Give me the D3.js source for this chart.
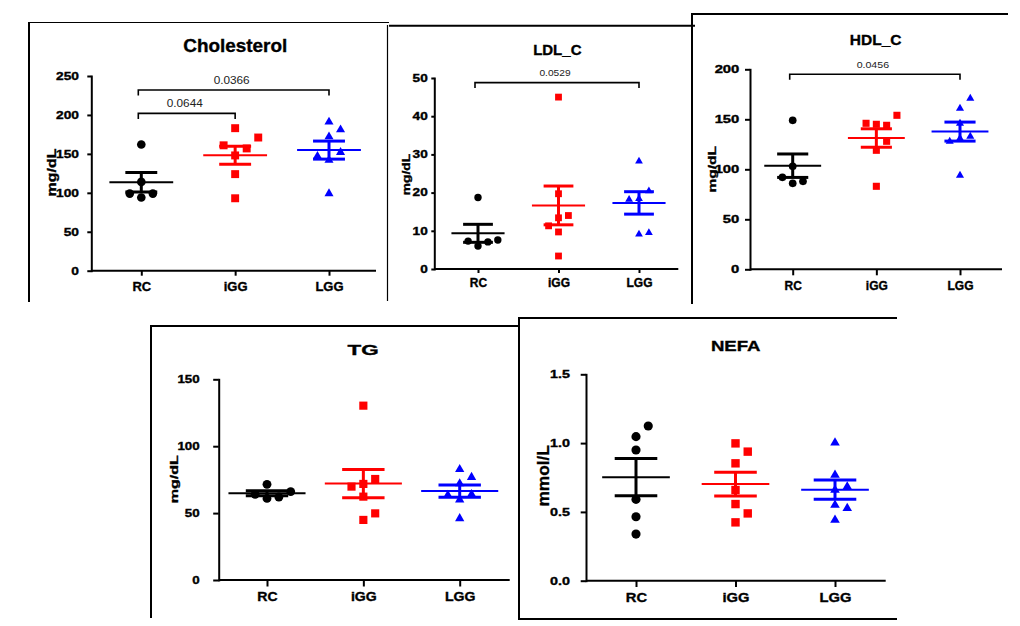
<!DOCTYPE html>
<html><head><meta charset="utf-8">
<script src="https://cdn.jsdelivr.net/npm/d3@7"></script>
<style>html,body{margin:0;padding:0;background:#fff;}svg{display:block;font-family:Arial,"Liberation Sans",sans-serif;}</style>
</head><body><svg id="c" width="1020" height="626"></svg>
<script>
// ---------------- DATA ----------------
const categories = ["RC", "iGG", "LGG"];
const groupColors = ["#000000", "#ff0000", "#0000ff"];

// Cholesterol (mg/dL)
const cholRC  = [162, 114, 94, 99, 99];
const cholIGG = [183, 148, 124, 93, 157, 161, 171];
const cholLGG = [191, 172, 142, 99, 181, 152, 147];
const cholTicks = [0, 50, 100, 150, 200, 250];
const cholBrackets = [
  {from: "RC", to: "iGG", p: "0.0644", level: 202},
  {from: "RC", to: "LGG", p: "0.0366", level: 232}
];

// LDL_C (mg/dL)
const ldlRC  = [18.7, 6.0, 7.1, 7.3, 7.6];
const ldlIGG = [45, 19.7, 13.4, 9.7, 3.4, 14.0, 11.3];
const ldlLGG = [28.2, 18.4, 9.1, 20.4, 18.2, 9.5];
const ldlTicks = [0, 10, 20, 30, 40, 50];
const ldlBrackets = [{from: "RC", to: "LGG", p: "0.0529", level: 48.8}];

// HDL_C (mg/dL)
const hdlRC  = [149, 103, 86, 88, 92];
const hdlIGG = [145, 119, 83, 144, 146, 154, 128];
const hdlLGG = [161, 146, 131, 94, 133, 128, 171];
const hdlTicks = [0, 50, 100, 150, 200];
const hdlBrackets = [{from: "RC", to: "LGG", p: "0.0456", level: 195}];

// TG (mg/dL)
const tgRC  = [71.5, 61, 62, 64, 66];
const tgIGG = [130.3, 71.8, 62.3, 44.9, 75.5, 69.8, 49.8];
const tgLGG = [82.7, 72, 60, 46, 76.8, 64, 63.5];
const tgTicks = [0, 50, 100, 150];

// NEFA (mmol/L)
const nefaRC  = [1.047, 0.95, 0.591, 0.465, 0.339, 1.124];
const nefaIGG = [0.998, 0.853, 0.659, 0.557, 0.424, 0.938, 0.489];
const nefaLGG = [1.003, 0.768, 0.659, 0.55, 0.441, 0.683, 0.526];
const nefaTicks = [0, 0.5, 1.0, 1.5];

const titles = ["Cholesterol", "LDL_C", "HDL_C", "TG", "NEFA"];
const yLabels = ["mg/dL", "mg/dL", "mg/dL", "mg/dL", "mmol/L"];

// ---------------- LAYOUT ----------------
const layouts = [
  {frame: [[28,22.5,389,22.5,1.2],[29,22,29,302,2]], axisX: 91.3, xEnd: 376, yTop: 76, yBot: 270.7, c0: 141.3, c2: 329,
   tick: 4, tickEnd: 79, tickFont: 11, tickSx: 1.25, xlabBase: 291, xlabFont: 13, xlabSx: 1.0,
   title: {x: 235.3, y: 52.3, f: 18, sx: 1.05}, ylab: {x: 56.2, y: 172.5, f: 12, sx: 1.33}, pFont: 10, pSx: 1.18,
   meanHalf: 0.34, semHalf: 0.17},
  {frame: [[389,25.7,695,25.7,2],[387.5,25,387.5,301,1.2]], axisX: 434.3, xEnd: 678.3, yTop: 78, yBot: 269, c0: 478, c2: 639,
   tick: 3, tickEnd: 427.7, tickFont: 10, tickSx: 1.36, xlabBase: 287, xlabFont: 12, xlabSx: 1.0,
   title: {x: 557.3, y: 55.3, f: 15, sx: 1.0}, ylab: {x: 409.9, y: 174.5, f: 11.5, sx: 1.2}, pFont: 9, pSx: 1.13,
   meanHalf: 0.33, semHalf: 0.185},
  {frame: [[692,14,1008,14,2],[692,13,692,304,2]], axisX: 750, xEnd: 1002, yTop: 69.3, yBot: 269.3, c0: 792.7, c2: 960,
   tick: 5, tickEnd: 739.3, tickFont: 10.2, tickSx: 1.45, xlabBase: 290, xlabFont: 12, xlabSx: 1.0,
   title: {x: 875.7, y: 45, f: 15.5, sx: 1.0}, ylab: {x: 715.6, y: 169.3, f: 11.5, sx: 1.35}, pFont: 9.3, pSx: 1.14,
   meanHalf: 0.34, semHalf: 0.186},
  {frame: [[151,326,519,326,2],[151,325,151,618,2]], axisX: 218.7, xEnd: 509.7, yTop: 379.3, yBot: 580, c0: 267, c2: 459.7,
   tick: 5.5, tickEnd: 199.7, tickFont: 10.2, tickSx: 1.31, xlabBase: 600.7, xlabFont: 12.6, xlabSx: 1.12,
   title: {x: 363, y: 355, f: 14.5, sx: 1.55}, ylab: {x: 178.3, y: 479.2, f: 11.5, sx: 1.4}, pFont: 9, pSx: 1.1,
   meanHalf: 0.40, semHalf: 0.22},
  {frame: [[519,318,897,318,2],[519,317,519,620,2],[519,619,897,619,2]], axisX: 586, xEnd: 885.7, yTop: 374.3, yBot: 580.7, c0: 636, c2: 835,
   tick: 5.3, tickEnd: 570, tickFont: 11.2, tickSx: 1.28, xlabBase: 601.7, xlabFont: 12.6, xlabSx: 1.17,
   title: {x: 735.7, y: 351, f: 15.4, sx: 1.21}, ylab: {x: 549.3, y: 475.8, f: 16, sx: 1.08}, pFont: 9, pSx: 1.1,
   meanHalf: 0.34, semHalf: 0.214}
];

const panels = [
  {groups: [cholRC, cholIGG, cholLGG], ticks: cholTicks, fmt: d3.format("d"), brackets: cholBrackets},
  {groups: [ldlRC, ldlIGG, ldlLGG], ticks: ldlTicks, fmt: d3.format("d"), brackets: ldlBrackets},
  {groups: [hdlRC, hdlIGG, hdlLGG], ticks: hdlTicks, fmt: d3.format("d"), brackets: hdlBrackets},
  {groups: [tgRC, tgIGG, tgLGG], ticks: tgTicks, fmt: d3.format("d"), brackets: []},
  {groups: [nefaRC, nefaIGG, nefaLGG], ticks: nefaTicks, fmt: d3.format(".1f"), brackets: []}
];

const shapes = [d3.symbolCircle, d3.symbolSquare, d3.symbolTriangle];
const shapeSize = [
  m => Math.PI * (m / 2) * (m / 2),
  m => (0.92 * m) * (0.92 * m),
  m => Math.sqrt(3) / 4 * (1.05 * m) * (1.05 * m)
];
const FONT = "Arial, 'Liberation Sans', sans-serif";
const BOLD_STROKE = 0.35;
const svg = d3.select("#c");

// greedy column layout of overlapping points (GraphPad-like scatter)
function arrange(values, y, thr) {
  const placed = [];
  const prefs = [0, 1, -1, 2, -2, 3, -3, 4, -4];
  return values.map(v => {
    const py = y(v);
    const s = prefs.find(s => !placed.some(p => p.slot === s && Math.abs(p.py - py) < thr));
    placed.push({slot: s, py});
    return {v, slot: s, py};
  });
}

function boldify(sel) {
  return sel.style("font-weight", "bold").attr("stroke", "#000").attr("stroke-width", BOLD_STROKE);
}

panels.forEach((P, pi) => {
  const L = layouts[pi];
  const g = svg.append("g");

  // frame
  L.frame.forEach(([x1, y1, x2, y2, w]) => g.append("line")
    .attr("x1", x1).attr("y1", y1).attr("x2", x2).attr("y2", y2)
    .attr("stroke", "#000").attr("stroke-width", w));

  const y = d3.scaleLinear().domain([0, d3.max(P.ticks)]).range([L.yBot, L.yTop]);
  const x = d3.scalePoint().domain(categories).range([L.c0, L.c2]);
  const step = x.step();

  // x axis
  g.append("line").attr("x1", L.axisX).attr("x2", L.xEnd).attr("y1", L.yBot).attr("y2", L.yBot)
    .attr("stroke", "#000").attr("stroke-width", 2);
  const xa = g.append("g").attr("transform", `translate(0,${L.yBot})`)
    .call(d3.axisBottom(x).tickSize(L.tick + 1).tickSizeOuter(0));
  xa.attr("font-family", FONT).attr("font-size", null);
  xa.select(".domain").remove();
  xa.selectAll(".tick line").attr("stroke-width", 2).attr("stroke", "#000");
  boldify(xa.selectAll(".tick text").attr("y", L.xlabBase - L.yBot).attr("dy", 0)
    .attr("transform", `scale(${L.xlabSx},1)`).attr("fill", "#000")
    .style("font-size", L.xlabFont + "px"));

  // y axis
  const ya = g.append("g").attr("transform", `translate(${L.axisX},0)`)
    .call(d3.axisLeft(y).tickValues(P.ticks).tickFormat(P.fmt).tickSize(L.tick).tickSizeOuter(0));
  ya.attr("font-family", FONT).attr("font-size", null);
  ya.select(".domain").attr("stroke-width", 2).attr("stroke", "#000").attr("stroke-linecap", "square");
  ya.selectAll(".tick line").attr("stroke-width", 2).attr("stroke", "#000");
  boldify(ya.selectAll(".tick text").attr("x", -(L.axisX - L.tickEnd) / L.tickSx)
    .attr("transform", `scale(${L.tickSx},1)`).attr("fill", "#000")
    .style("font-size", L.tickFont + "px"));

  // points
  const m = 0.092 * step, slotW = 0.123 * step;
  P.groups.forEach((vals, i) => {
    const cx = x(categories[i]);
    const pts = arrange(vals, y, 11.5);
    const sym = d3.symbol().type(shapes[i]).size(shapeSize[i](m));
    g.append("g").selectAll("path").data(pts).join("path")
      .attr("d", sym)
      .attr("transform", d => `translate(${cx + d.slot * slotW},${d.py})`)
      .attr("fill", groupColors[i]);
  });

  // mean ± SEM
  P.groups.forEach((vals, i) => {
    const cx = x(categories[i]);
    const mean = d3.mean(vals);
    const sem = d3.deviation(vals) / Math.sqrt(vals.length);
    const col = groupColors[i];
    const eg = g.append("g").attr("stroke", col);
    eg.append("line").attr("x1", cx).attr("x2", cx).attr("y1", y(mean + sem)).attr("y2", y(mean - sem)).attr("stroke-width", 3);
    [mean + sem, mean - sem].forEach(v => eg.append("line")
      .attr("x1", cx - L.semHalf * step).attr("x2", cx + L.semHalf * step)
      .attr("y1", y(v)).attr("y2", y(v)).attr("stroke-width", 3));
    eg.append("line").attr("x1", cx - L.meanHalf * step).attr("x2", cx + L.meanHalf * step)
      .attr("y1", y(mean)).attr("y2", y(mean)).attr("stroke-width", 2);
  });

  // significance brackets
  P.brackets.forEach(b => {
    const x1 = x(b.from) - 3, x2 = x(b.to), yb = y(b.level);
    g.append("path").attr("d", `M${x1},${yb + 5.5}V${yb}H${x2}V${yb + 5.5}`)
      .attr("fill", "none").attr("stroke", "#000").attr("stroke-width", 1.6);
    g.append("text").attr("transform", `translate(${(x1 + x2) / 2 - 2},${yb - 6.5}) scale(${L.pSx},1)`)
      .attr("text-anchor", "middle").attr("font-family", FONT).attr("font-size", L.pFont + "px")
      .attr("fill", "#222").text(b.p);
  });

  // title
  boldify(g.append("text").attr("transform", `translate(${L.title.x},${L.title.y}) scale(${L.title.sx},1)`)
    .attr("text-anchor", "middle").attr("font-family", FONT)
    .attr("font-size", L.title.f + "px").attr("fill", "#000").text(titles[pi]));

  // y label
  boldify(g.append("text").attr("transform", `translate(${L.ylab.x},${L.ylab.y}) rotate(-90) scale(${L.ylab.sx},1)`)
    .attr("text-anchor", "middle").attr("font-family", FONT)
    .attr("font-size", L.ylab.f + "px").attr("fill", "#000").text(yLabels[pi]));
});
</script>
</body></html>
